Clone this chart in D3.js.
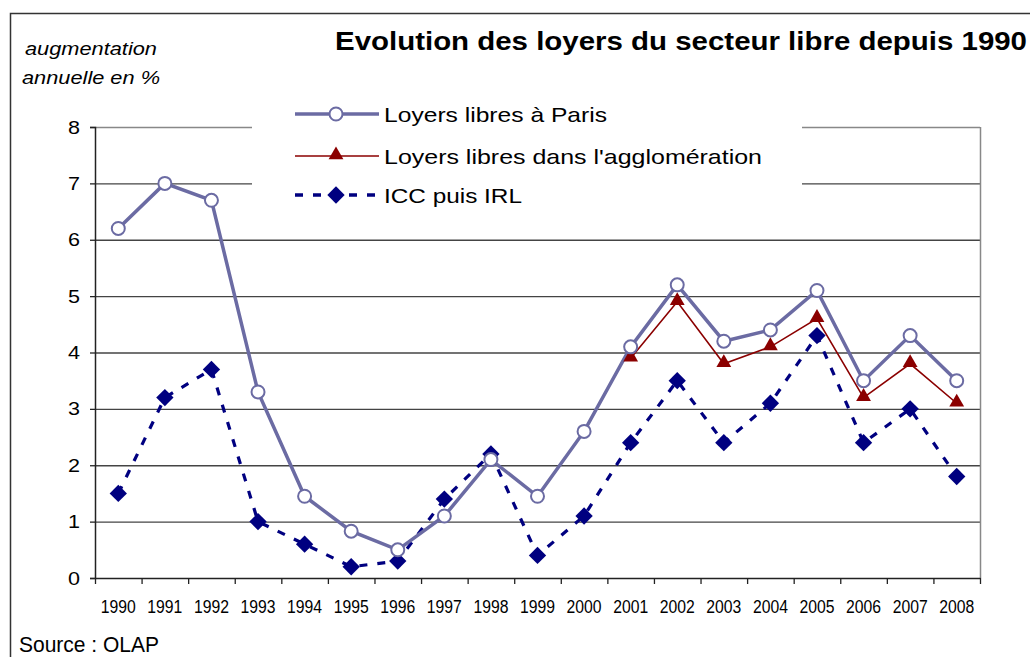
<!DOCTYPE html>
<html>
<head>
<meta charset="utf-8">
<script src="https://cdn.jsdelivr.net/npm/d3@7"></script>
<style>
body{margin:0;background:#fff;}
svg{display:block;font-family:"Liberation Sans",Arial,sans-serif;}
</style>
</head>
<body>
<svg></svg>
<script>
// data
var years = ['1990','1991','1992','1993','1994','1995','1996','1997','1998','1999','2000','2001','2002','2003','2004','2005','2006','2007','2008'];
var paris = [6.2,7.0,6.7,3.3,1.45,0.83,0.5,1.1,2.1,1.45,2.6,4.1,5.2,4.2,4.4,5.1,3.5,4.3,3.5];
var agglo = [null,null,null,null,null,null,null,null,null,null,null,3.9,4.9,3.8,4.1,4.6,3.2,3.8,3.1];
var icc = [1.5,3.2,3.7,1.0,0.6,0.2,0.3,1.4,2.2,0.4,1.1,2.4,3.5,2.4,3.1,4.3,2.4,3.0,1.8];
var yTicks = [0,1,2,3,4,5,6,7,8];
var legendNames = ['Loyers libres à Paris',"Loyers libres dans l'agglomération",'ICC puis IRL'];

var width = 1030, height = 657;
var plot = {left:95,right:980,top:127,bottom:578};
var cParis = '#6b6ba3', cAgglo = '#8b0000', cIcc = '#000080';

var svg = d3.select('svg').attr('width',width).attr('height',height);

var x = d3.scaleBand().domain(years).range([plot.left,plot.right]);
var y = d3.scaleLinear().domain([0,8]).range([plot.bottom,plot.top]);

// the source picture is stretched sideways, so texts get a fixed length
function stretch(sel,len){
	sel.attr('textLength',len).attr('lengthAdjust','spacingAndGlyphs');
	return sel;
}

// outer frame
svg.append('path')
	.attr('d','M10.5,'+height+' V13.5 H'+width)
	.attr('fill','none').attr('stroke','#333').attr('stroke-width',1.5);

// gridlines
var gridG = svg.append('g');
gridG.selectAll('line').data(yTicks.filter(function(d){return d>0;})).enter().append('line')
	.attr('x1',plot.left).attr('x2',plot.right)
	.attr('y1',function(d){return y(d)+0.5;}).attr('y2',function(d){return y(d)+0.5;})
	.attr('stroke',function(d){return d==8?'#888':'#444';}).attr('stroke-width',1.4);
// right border of plot
svg.append('line').attr('x1',plot.right+0.5).attr('x2',plot.right+0.5)
	.attr('y1',plot.top).attr('y2',plot.bottom).attr('stroke','#888').attr('stroke-width',1.5);

// axes
var axisY = d3.axisLeft(y).tickValues(yTicks).tickSize(5).tickPadding(10).tickFormat(d3.format('d'));
var axisYG = svg.append('g').attr('transform','translate('+plot.left+',0)').call(axisY);
axisYG.select('.domain').attr('stroke','#222').attr('stroke-width',1.5);
axisYG.selectAll('.tick line').attr('stroke','#222').attr('stroke-width',1.3);
axisYG.selectAll('text').attr('font-size',19).attr('fill','#000')
	.attr('font-family','"Liberation Sans",Arial,sans-serif');
stretch(axisYG.selectAll('text'),12);

var axisX = d3.axisBottom(x).tickSize(0).tickPadding(22);
var axisXG = svg.append('g').attr('transform','translate(0,'+plot.bottom+')').call(axisX);
axisXG.select('.domain').attr('stroke','#222').attr('stroke-width',1.5);
axisXG.selectAll('text').attr('font-size',18).attr('fill','#000')
	.attr('font-family','"Liberation Sans",Arial,sans-serif');
stretch(axisXG.selectAll('text'),35);
// ticks between categories
var bounds = years.map(function(d){return x(d);}).concat([plot.right]);
axisXG.selectAll('.bound').data(bounds).enter().append('line').attr('class','bound')
	.attr('x1',function(d){return d+0.5;}).attr('x2',function(d){return d+0.5;})
	.attr('y1',0).attr('y2',6).attr('stroke','#222').attr('stroke-width',1.3);

// legend box (white background hiding gridlines)
svg.append('rect').attr('x',252).attr('y',92).attr('width',550).attr('height',116).attr('fill','#fff');

// series
var cx = function(i){return x(years[i])+x.bandwidth()/2;};
var line = d3.line().defined(function(d){return d!=null;})
	.x(function(d,i){return cx(i);}).y(function(d){return y(d);});

svg.append('path').datum(icc).attr('d',line).attr('fill','none')
	.attr('stroke',cIcc).attr('stroke-width',3.2).attr('stroke-dasharray','8,10');
svg.append('path').datum(paris).attr('d',line).attr('fill','none')
	.attr('stroke',cParis).attr('stroke-width',3.5);
svg.append('path').datum(agglo).attr('d',line).attr('fill','none')
	.attr('stroke',cAgglo).attr('stroke-width',1.6);

var diamond = d3.symbol().type(d3.symbolSquare).size(150);
var tri = d3.symbol().type(d3.symbolTriangle).size(95);

svg.append('g').selectAll('path').data(icc).enter().append('path')
	.attr('d',diamond)
	.attr('transform',function(d,i){return 'translate('+cx(i)+','+y(d)+') rotate(45)';})
	.attr('fill',cIcc);
svg.append('g').selectAll('path').data(agglo.map(function(d,i){return {v:d,i:i};}).filter(function(d){return d.v!=null;}))
	.enter().append('path')
	.attr('d',tri)
	.attr('transform',function(d){return 'translate('+cx(d.i)+','+(y(d.v)-1)+')';})
	.attr('fill',cAgglo);
svg.append('g').selectAll('circle').data(paris).enter().append('circle')
	.attr('cx',function(d,i){return cx(i);}).attr('cy',function(d){return y(d);})
	.attr('r',6.5).attr('fill','#fff').attr('stroke',cParis).attr('stroke-width',2);

// legend
var legG = svg.append('g');
var legY = [114,156,195];
var legLen = [223,378,138];
legendNames.forEach(function(name,i){
	var g = legG.append('g').attr('transform','translate(0,'+legY[i]+')');
	var ln = g.append('line').attr('x1',295).attr('x2',379).attr('y1',0).attr('y2',0);
	if(i==0){
		ln.attr('stroke',cParis).attr('stroke-width',3.5);
		g.append('circle').attr('cx',336).attr('cy',0).attr('r',6.5)
			.attr('fill','#fff').attr('stroke',cParis).attr('stroke-width',2);
	}else if(i==1){
		ln.attr('stroke',cAgglo).attr('stroke-width',1.6);
		g.append('path').attr('d',tri).attr('transform','translate(336,-1)').attr('fill',cAgglo);
	}else{
		ln.attr('stroke',cIcc).attr('stroke-width',3.5).attr('stroke-dasharray','8,10')
			.attr('x1',295).attr('x2',380);
		g.append('path').attr('d',diamond).attr('transform','translate(336,0) rotate(45)').attr('fill',cIcc);
	}
	stretch(g.append('text').attr('x',384).attr('y',8).attr('font-size',21).attr('fill','#000').text(name),legLen[i]);
});

// titles
stretch(svg.append('text').attr('x',335).attr('y',50)
	.attr('font-size',25).attr('font-weight','bold').attr('fill','#000')
	.text('Evolution des loyers du secteur libre depuis 1990'),692);
stretch(svg.append('text').attr('x',25).attr('y',55).attr('font-size',19).attr('font-style','italic').text('augmentation'),132);
stretch(svg.append('text').attr('x',22).attr('y',84).attr('font-size',19).attr('font-style','italic').text('annuelle en %'),138);
stretch(svg.append('text').attr('x',19).attr('y',652).attr('font-size',22).text('Source : OLAP'),140);
</script>
</body>
</html>
